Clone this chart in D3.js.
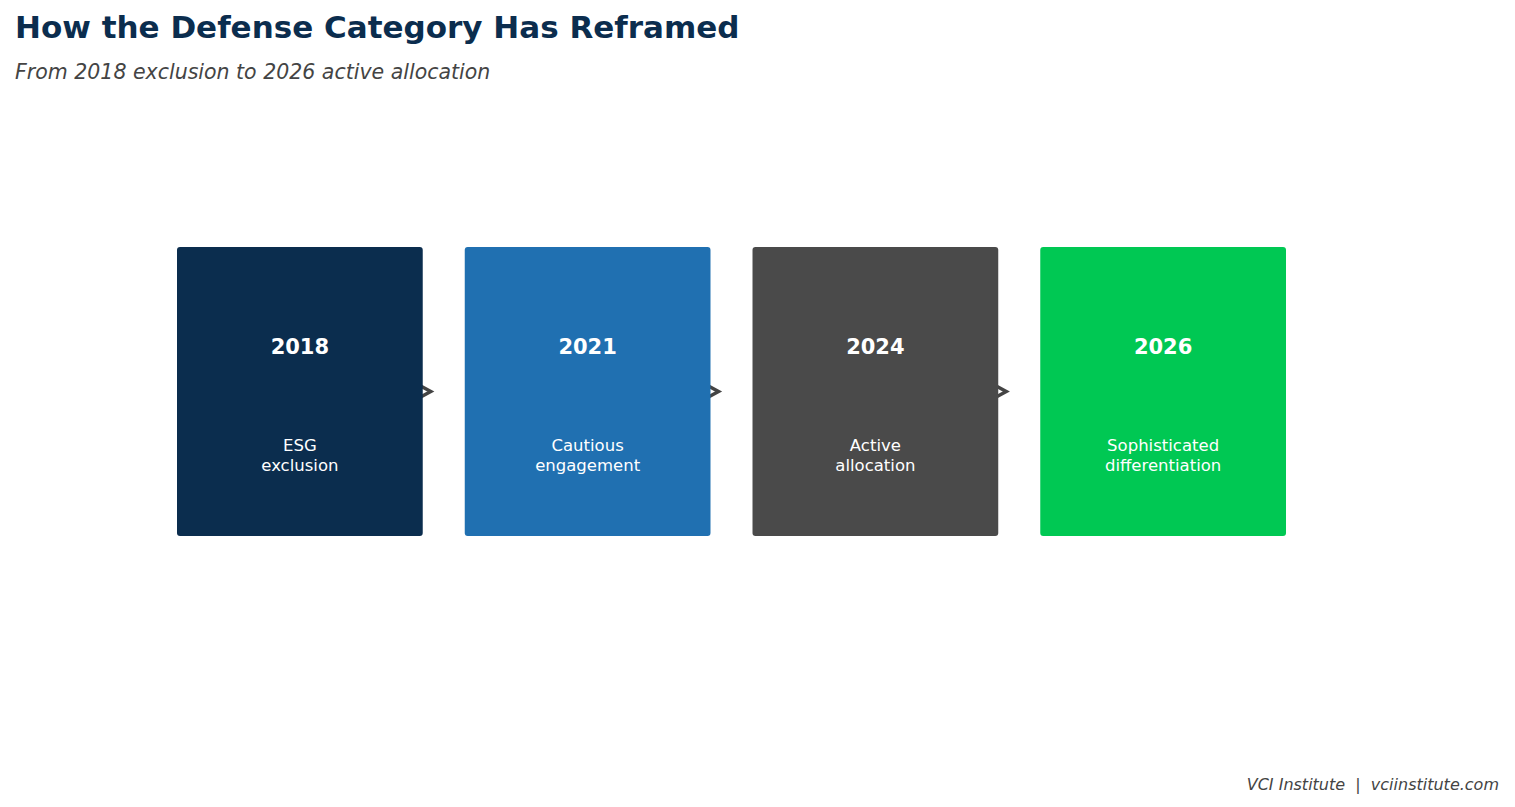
<!DOCTYPE html><html><head><meta charset="utf-8"><script src="https://cdn.jsdelivr.net/npm/d3@7"></script>
<style>body{margin:0;background:#fff;font-family:"DejaVu Sans",sans-serif}text{white-space:pre}</style></head><body><svg id="c" width="1515" height="807"></svg><script>
const years=["2018","2021","2024","2026"];
const labels=[["ESG","exclusion"],["Cautious","engagement"],["Active","allocation"],["Sophisticated","differentiation"]];
const colors=["#0b2d4e","#2070b1","#4a4a4a","#00c853"];
const svg=d3.select("#c");
svg.append("text").attr("x",15).attr("y",38).attr("font-size",31).attr("font-weight","bold").attr("fill","#0b2d4e").text("How the Defense Category Has Reframed");
svg.append("text").attr("x",15).attr("y",79).attr("font-size",20.5).attr("font-style","italic").attr("fill","#444").text("From 2018 exclusion to 2026 active allocation");
svg.append("text").attr("x",1499).attr("y",790).attr("text-anchor","end").attr("font-size",16).attr("font-style","italic").attr("fill","#444").text("VCI Institute  |  vciinstitute.com");
const x=d3.scaleBand().domain(years).range([177,1286]).paddingInner(0.146).paddingOuter(0);
const y=d3.scaleLinear().domain([0,1]).range([536,247]);
const bw=x.bandwidth();
years.forEach((yr,i)=>{
  if(i<years.length-1){
    const ax=x(yr)+bw;
    svg.append("path").attr("d",`M${ax-3},${y(0.5)-6}L${ax+8},${y(0.5)}L${ax-3},${y(0.5)+6}`).attr("fill","none").attr("stroke","#444").attr("stroke-width",3.5);
  }
});
years.forEach((yr,i)=>{
  const g=svg.append("g");
  g.append("rect").attr("x",x(yr)).attr("y",y(1)).attr("width",bw).attr("height",y(0)-y(1)).attr("rx",3).attr("fill",colors[i]);
  const cx=x(yr)+bw/2;
  g.append("text").attr("x",cx).attr("y",354).attr("text-anchor","middle").attr("font-size",21).attr("font-weight","bold").attr("fill","#fff").text(yr);
  labels[i].forEach((l,j)=>g.append("text").attr("x",cx).attr("y",451+j*20).attr("text-anchor","middle").attr("font-size",16.5).attr("fill","#fff").text(l));
});
</script></body></html>
